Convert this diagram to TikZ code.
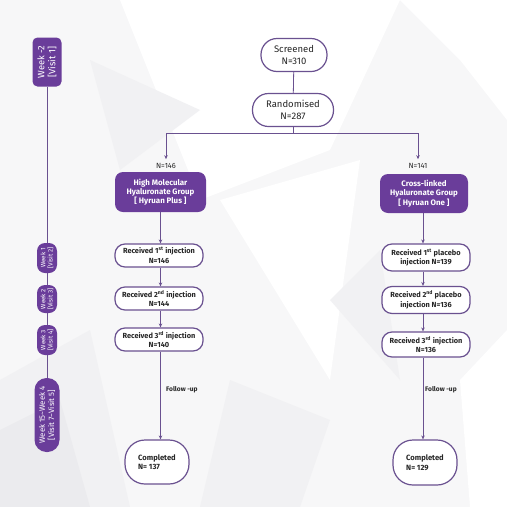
\documentclass[tikz,border=0pt]{standalone}
\usepackage{fontspec}
\setmainfont{Fira Sans}
\usetikzlibrary{arrows.meta}
\definecolor{pfill}{HTML}{6A3D9A}
\definecolor{pline}{HTML}{6A5190}
\definecolor{bgA}{HTML}{F1F1F3}
\definecolor{bgB}{HTML}{EBEBEE}
\definecolor{bgC}{HTML}{F7F7F8}
\tikzset{
  pill/.style={draw=pline, line width=1.2pt, fill=white, inner sep=0pt, align=center, text=black!85},
  grp/.style={fill=pfill, rounded corners=8pt, inner sep=0pt, align=center, text=white, font=\fontsize{7.9}{9.2}\selectfont\bfseries},
  wk/.style={fill=pfill, inner sep=0pt, align=center, text=white, rotate=90},
  conn/.style={draw=pline, line width=0.8pt},
  arr/.style={conn, -{Stealth[length=4pt,width=3.5pt]}},
  lbl/.style={inner sep=0pt, text=black!85, font=\fontsize{7}{8}\selectfont\bfseries},
}
\begin{document}
\begin{tikzpicture}[x=1pt,y=-1pt]
\useasboundingbox (0,0) rectangle (507,507);
% faint background facets
\fill[bgC] (0,0) rectangle (507,507);
\fill[white] (120,0) -- (400,0) -- (330,150) -- (200,200) -- cycle;
\fill[white] (220,200) -- (360,160) -- (330,380) -- cycle;
\fill[bgA] (0,380) -- (90,330) -- (130,507) -- (0,507) -- cycle;
\fill[bgB] (0,430) -- (60,400) -- (90,507) -- (0,507) -- cycle;
\fill[bgA] (230,380) -- (330,420) -- (300,507) -- (200,507) -- cycle;
\fill[white] (400,0) -- (507,0) -- (507,120) -- (460,60) -- cycle;
\fill[bgA] (330,300) -- (380,250) -- (400,380) -- cycle;
\fill[white] (460,380) -- (507,330) -- (507,507) -- (470,507) -- cycle;
\fill[bgA] (90,60) -- (200,110) -- (120,170) -- cycle;

% main column
\node[pill, rounded corners=16pt, minimum width=66pt, minimum height=33pt, font=\fontsize{9.5}{11.5}\selectfont] (scr) at (294,55) {Screened\\N=310};
\node[pill, rounded corners=16pt, minimum width=81pt, minimum height=33pt, font=\fontsize{9.5}{11.5}\selectfont] (rnd) at (293,110) {Randomised\\N=287};
\draw[conn] (scr) -- (rnd);

\coordinate (split) at (293,133);
\coordinate (lt) at (166,133);
\coordinate (rt) at (418,133);
\coordinate (lx) at (160.5,0);
\coordinate (rx) at (423,0);
\node[lbl, font=\fontsize{7.5}{8}\selectfont\mdseries] (n146) at (166,166) {N=146};
\node[lbl, font=\fontsize{7.5}{8}\selectfont\mdseries] (n141) at (418,166) {N=141};
\draw[conn] (rnd.south) -- (split);
\draw[conn] (lt) -- (rt);
\draw[arr] (lt) -- ([yshift=4pt]n146.north);
\draw[arr] (rt) -- ([yshift=4pt]n141.north);

\node[grp, minimum width=91pt, minimum height=40pt] (g1) at (160.5,192) {High Molecular\\Hyaluronate Group\\{[} Hyruan Plus {]}};
\node[grp, minimum width=88pt, minimum height=39pt] (g2) at (424,193.5) {Cross-linked\\Hyaluronate Group\\{[} Hyruan One {]}};

% left branch
\tikzset{rcv/.style={pill, rounded corners=10pt, font=\fontsize{7.4}{9.5}\selectfont\bfseries}}
\node[rcv, minimum width=88pt, minimum height=23pt] (l1) at (159,255.5) {Received 1\textsuperscript{st} injection\\N=146};
\node[rcv, minimum width=88pt, minimum height=23pt] (l2) at (159,298.5) {Received 2\textsuperscript{nd} injection\\N=144};
\node[rcv, minimum width=88pt, minimum height=23pt] (l3) at (159,339.5) {Received 3\textsuperscript{rd} injection\\N=140};
\node[pill, rounded corners=20pt, minimum width=64pt, minimum height=44pt, align=left, font=\fontsize{7.6}{9.5}\selectfont\bfseries] (c1) at (157,462) {Completed\\N= 137};

% right branch
\node[rcv, minimum width=88pt, minimum height=27pt] (r1) at (426,257.5) {Received 1\textsuperscript{st} placebo\\injection N=139};
\node[rcv, minimum width=88pt, minimum height=27pt] (r2) at (426,300) {Received 2\textsuperscript{nd} placebo\\injection N=136};
\node[rcv, minimum width=88pt, minimum height=25pt] (r3) at (426,344.5) {Received 3\textsuperscript{rd} injection\\N=136};
\node[pill, rounded corners=20pt, minimum width=64pt, minimum height=45pt, align=left, font=\fontsize{7.6}{9.5}\selectfont\bfseries] (c2) at (425,462.5) {Completed\\N= 129};

\draw[arr] (g1.south -| lx) -- (l1.north -| lx);
\draw[arr] (l1.south -| lx) -- (l2.north -| lx);
\draw[arr] (l2.south -| lx) -- (l3.north -| lx);
\draw[arr] (l3.south -| lx) -- (c1.north -| lx);
\draw[arr] (g2.south -| rx) -- (r1.north -| rx);
\draw[arr] (r1.south -| rx) -- (r2.north -| rx);
\draw[arr] (r2.south -| rx) -- (r3.north -| rx);
\draw[arr] (r3.south -| rx) -- (c2.north -| rx);
\node[lbl, anchor=west, font=\fontsize{6.6}{8}\selectfont\bfseries] (fu1) at (166,390) {Follow -up};
\node[lbl, anchor=west, font=\fontsize{6.6}{8}\selectfont\bfseries] (fu2) at (425,390) {Follow -up};

% timeline
\node[wk, rounded corners=5pt, minimum width=49pt, minimum height=29pt, font=\fontsize{9.3}{11}\selectfont] (w0) at (47,62) {Week -2\\{[}Visit 1{]}};
\node[wk, rounded corners=8pt, minimum width=30pt, minimum height=20pt, font=\fontsize{6.3}{7.3}\selectfont] (w1) at (47,258) {Week 1\\{[}Visit 2{]}};
\node[wk, rounded corners=8pt, minimum width=28pt, minimum height=20pt, font=\fontsize{6.3}{7.3}\selectfont] (w2) at (47,299) {Week 2\\{[}Visit 3{]}};
\node[wk, rounded corners=8pt, minimum width=30pt, minimum height=20pt, font=\fontsize{6.3}{7.3}\selectfont] (w3) at (47,340) {Week 3\\{[}Visit 4{]}};
\node[wk, rounded corners=12pt, minimum width=74pt, minimum height=25pt, font=\fontsize{7.8}{9.2}\selectfont] (w4) at (47,415) {Week 15\textasciitilde Week 4\\{[}Visit 7\textasciitilde Visit 5{]}};
\draw[conn, line width=0.6pt] (w0.west) -- (w1.east);
\draw[conn, line width=0.6pt] (w1.west) -- (w2.east);
\draw[conn, line width=0.6pt] (w2.west) -- (w3.east);
\draw[conn, line width=0.6pt] (w3.west) -- (w4.east);
\end{tikzpicture}
\end{document}
